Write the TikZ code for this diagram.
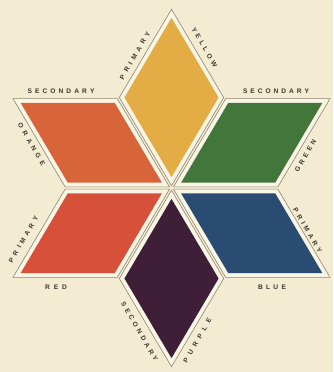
\documentclass[tikz,border=0pt]{standalone}
\usepackage{fontspec}
\setmainfont{Liberation Sans}
\usetikzlibrary{calc}
\definecolor{bg}{HTML}{F3ECD2}
\definecolor{band}{HTML}{FAF6E6}
\definecolor{outlc}{HTML}{8C8470}
\definecolor{txt}{HTML}{3A3530}
\definecolor{cyellow}{HTML}{E3AC45}
\definecolor{corange}{HTML}{D8643A}
\definecolor{cred}{HTML}{D6503A}
\definecolor{cgreen}{HTML}{42763A}
\definecolor{cblue}{HTML}{2A4B72}
\definecolor{cpurple}{HTML}{3F1F38}
\newcommand{\spr}[2]{\makebox[#1pt][s]{#2}}
\newcommand{\rhomb}[5]{%
  \coordinate (m) at ($(#1)!0.5!(#3)$);
  \draw[outl] ($(m)!0.975!(#1)$) -- ($(m)!0.975!(#2)$) -- ($(m)!0.975!(#3)$) -- ($(m)!0.975!(#4)$) -- cycle;
  \fill[#5] ($(m)!0.88!(#1)$) -- ($(m)!0.88!(#2)$) -- ($(m)!0.88!(#3)$) -- ($(m)!0.88!(#4)$) -- cycle;
}
\begin{document}
\begin{tikzpicture}[x=1pt,y=1pt,
  outl/.style={draw=outlc, line width=0.6pt, fill=band},
  lab/.style={text=txt, font=\fontsize{6.6}{7}\selectfont\bfseries, inner sep=0pt}]
\fill[bg] (0,0) rectangle (333,372);
\useasboundingbox (0,0) rectangle (333,372);
% geometry
\coordinate (C) at (171.5,184);
\coordinate (T) at (171.5,365);
\coordinate (Bt) at (171.5,3);
\coordinate (ULi) at (118,274.5);
\coordinate (URi) at (225,274.5);
\coordinate (Li) at (64.5,184);
\coordinate (Ri) at (278.5,184);
\coordinate (LLi) at (118,93.5);
\coordinate (LRi) at (225,93.5);
\coordinate (ULo) at (11,274.5);
\coordinate (URo) at (332,274.5);
\coordinate (LLo) at (11,93.5);
\coordinate (LRo) at (332,93.5);
% rhombi
\rhomb{C}{URi}{T}{ULi}{cyellow}
\rhomb{C}{Ri}{URo}{URi}{cgreen}
\rhomb{C}{LRi}{LRo}{Ri}{cblue}
\rhomb{C}{LLi}{Bt}{LRi}{cpurple}
\rhomb{C}{Li}{LLo}{LLi}{cred}
\rhomb{C}{ULi}{ULo}{Li}{corange}
% labels
\node[lab, rotate=60] (yp) at (135,316.5) {\spr{54}{P\hfil R\hfil I\hfil M\hfil A\hfil R\hfil Y}};
\node[lab, rotate=-60] (yy) at (204.5,324.5) {\spr{45}{Y\hfil E\hfil L\hfil L\hfil O\hfil W}};
\node[lab] (os) at (61,281) {\spr{67}{S\hfil E\hfil C\hfil O\hfil N\hfil D\hfil A\hfil R\hfil Y}};
\node[lab, rotate=-60] (oo) at (31.5,227.5) {\spr{48}{O\hfil R\hfil A\hfil N\hfil G\hfil E}};
\node[lab] (gs) at (276,281) {\spr{66}{S\hfil E\hfil C\hfil O\hfil N\hfil D\hfil A\hfil R\hfil Y}};
\node[lab, rotate=60] (gg) at (305.5,216.5) {\spr{36}{G\hfil R\hfil E\hfil E\hfil N}};
\node[lab, rotate=-60] (bp) at (307.5,141.5) {\spr{51}{P\hfil R\hfil I\hfil M\hfil A\hfil R\hfil Y}};
\node[lab] (bb) at (272,84.5) {\spr{28}{B\hfil L\hfil U\hfil E}};
\node[lab, rotate=60] (rp) at (23.5,132.5) {\spr{52}{P\hfil R\hfil I\hfil M\hfil A\hfil R\hfil Y}};
\node[lab] (rr) at (56,84.5) {\spr{22}{R\hfil E\hfil D}};
\node[lab, rotate=-60] (ps) at (139.5,40.5) {\spr{67}{S\hfil E\hfil C\hfil O\hfil N\hfil D\hfil A\hfil R\hfil Y}};
\node[lab, rotate=60] (pp) at (197.5,31.5) {\spr{50}{P\hfil U\hfil R\hfil P\hfil L\hfil E}};
\end{tikzpicture}
\end{document}
